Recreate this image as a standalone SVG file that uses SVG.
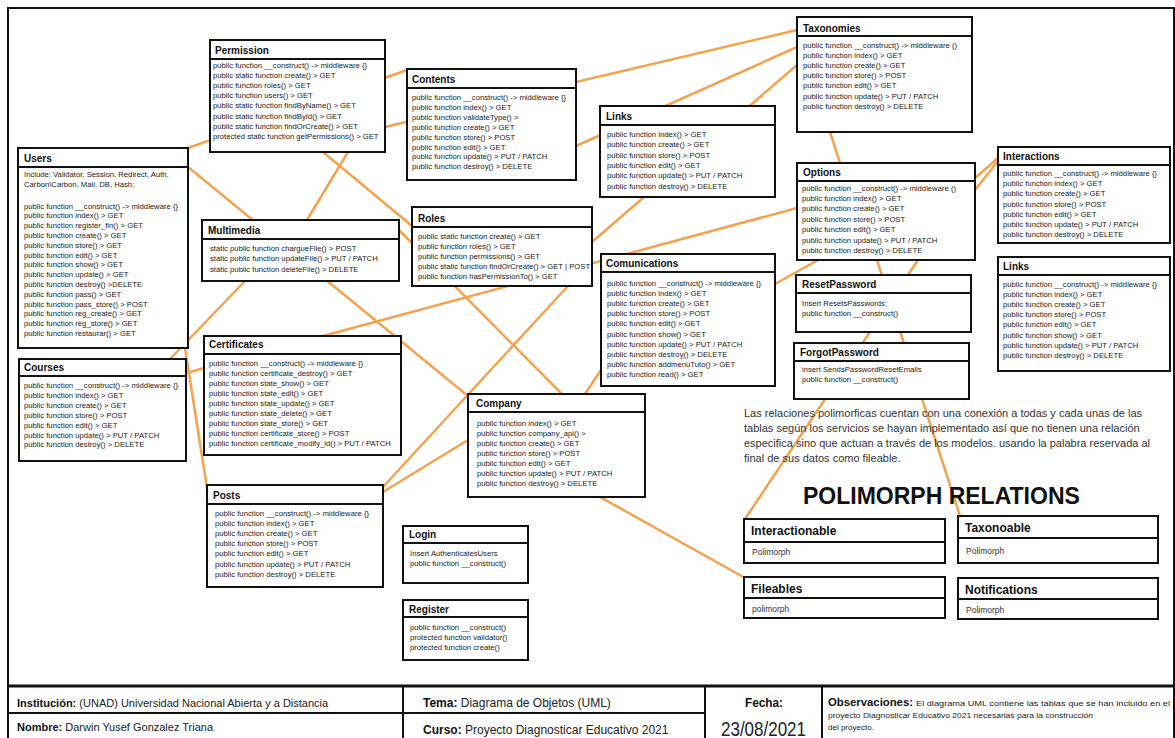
<svg xmlns="http://www.w3.org/2000/svg" width="1175" height="738" viewBox="0 0 1175 738">
<style>
.bx{fill:#fff;stroke:#111;stroke-width:2}
.hl{stroke:#111;stroke-width:2}
.t{font-family:"Liberation Sans",Arial,sans-serif;font-size:10px;font-weight:bold;fill:#111}
.m{font-family:"Liberation Sans",Arial,sans-serif;font-size:7.7px;fill:#222}
.pt{font-family:"Liberation Sans",Arial,sans-serif;font-size:12px;font-weight:bold;fill:#111}
.pm{font-family:"Liberation Sans",Arial,sans-serif;font-size:8.5px;fill:#333}
.c line{stroke:#F4A24E;stroke-width:2.5;fill:none}
.f{font-family:"Liberation Sans",Arial,sans-serif;fill:#222}
.f11{font-size:11px}
.f12{font-size:12px}
.f8{font-size:8px}
.f20{font-size:21px}
.fb{font-weight:bold;fill:#111}
.para{font-family:"Liberation Sans",Arial,sans-serif;font-size:11px;fill:#333}
.fr{stroke:#111;stroke-width:2;fill:none}
.fl{stroke:#111;stroke-width:2}
</style>
<rect width="1175" height="738" fill="#fff"/>
<path class="fr" d="M8 738V8H1174V738"/>

<g id="connectors" class="c">
<line x1="188" y1="148" x2="407" y2="70"/>
<line x1="188" y1="167" x2="468" y2="396"/>
<line x1="385" y1="127" x2="797" y2="30"/>
<line x1="576" y1="146" x2="797" y2="47"/>
<line x1="592" y1="242" x2="797" y2="65"/>
<line x1="186" y1="373" x2="797" y2="208"/>
<line x1="348" y1="152" x2="307" y2="220"/>
<line x1="323" y1="152" x2="412" y2="226"/>
<line x1="568" y1="286" x2="383" y2="487"/>
<line x1="399" y1="230" x2="562" y2="394"/>
<line x1="601" y1="370" x2="585" y2="394"/>
<line x1="775" y1="284" x2="818" y2="260"/>
<line x1="918" y1="260" x2="745" y2="519"/>
<line x1="877" y1="260" x2="960" y2="516"/>
<line x1="600" y1="497" x2="745" y2="578"/>
<line x1="975" y1="178" x2="998" y2="158"/>
<line x1="975" y1="190" x2="998" y2="161"/>
<line x1="830" y1="132" x2="840" y2="163"/>
<line x1="185" y1="348" x2="207" y2="488"/>
<line x1="245" y1="281" x2="170" y2="359"/>
<line x1="383" y1="492" x2="468" y2="440"/>
</g>

<g id="users">
<rect class="bx" x="18" y="148" width="170" height="200"/>
<line class="hl" x1="18" y1="167" x2="188" y2="167"/>
<text class="t" x="24" y="162">Users</text>
<text class="m"><tspan x="24" y="177">Include: Validator, Session, Redirect, Auth,</tspan><tspan x="24" y="187">Carbon\Carbon, Mail, DB, Hash;</tspan></text>
<text class="m"><tspan x="24" y="208.5">public function __construct() -&gt; middleware {}</tspan><tspan x="24" dy="9.8">public function index() &gt; GET</tspan><tspan x="24" dy="9.8">public function register_fin()  &gt; GET</tspan><tspan x="24" dy="9.8">public function create() &gt; GET</tspan><tspan x="24" dy="9.8">public function store() &gt; GET</tspan><tspan x="24" dy="9.8">public function edit() &gt; GET</tspan><tspan x="24" dy="9.8">public function show() &gt; GET</tspan><tspan x="24" dy="9.8">public function update() &gt; GET</tspan><tspan x="24" dy="9.8">public function destroy() &gt;DELETE</tspan><tspan x="24" dy="9.8">public function pass() &gt; GET</tspan><tspan x="24" dy="9.8">public function pass_store() &gt; POST</tspan><tspan x="24" dy="9.8">public function reg_create() &gt; GET</tspan><tspan x="24" dy="9.8">public function reg_store() &gt; GET</tspan><tspan x="24" dy="9.8">public function restaurar() &gt; GET</tspan></text>
</g>

<g id="permission">
<rect class="bx" x="210" y="40" width="175" height="112"/>
<line class="hl" x1="210" y1="59" x2="385" y2="59"/>
<text class="t" x="215" y="54">Permission</text>
<text class="m"><tspan x="213" y="68">public function __construct() -&gt; middleware {}</tspan><tspan x="213" dy="10.1">public static function create() &gt; GET</tspan><tspan x="213" dy="10.1">public function roles() &gt; GET</tspan><tspan x="213" dy="10.1">public function users() &gt; GET</tspan><tspan x="213" dy="10.1">public static function findByName() &gt; GET</tspan><tspan x="213" dy="10.1">public static function findById() &gt; GET</tspan><tspan x="213" dy="10.1">public static function findOrCreate() &gt; GET</tspan><tspan x="213" dy="10.1">protected static function getPermissions() &gt; GET</tspan></text>
</g>

<g id="contents">
<rect class="bx" x="407" y="69" width="169" height="111"/>
<line class="hl" x1="407" y1="88" x2="576" y2="88"/>
<text class="t" x="412" y="83">Contents</text>
<text class="m"><tspan x="412" y="100">public function __construct() -&gt; middleware {}</tspan><tspan x="412" dy="9.9">public function index() &gt; GET</tspan><tspan x="412" dy="9.9">public function validateType() &gt;</tspan><tspan x="412" dy="9.9">public function create() &gt; GET</tspan><tspan x="412" dy="9.9">public function store() &gt; POST</tspan><tspan x="412" dy="9.9">public function edit() &gt;  GET</tspan><tspan x="412" dy="9.9">public function update() &gt;  PUT / PATCH</tspan><tspan x="412" dy="9.9">public function destroy() &gt; DELETE</tspan></text>
</g>

<g id="multimedia">
<rect class="bx" x="202" y="220" width="197" height="61"/>
<line class="hl" x1="202" y1="239" x2="399" y2="239"/>
<text class="t" x="208" y="234">Multimedia</text>
<text class="m"><tspan x="210" y="251">static public function chargueFile() &gt; POST</tspan><tspan x="210" dy="10.3">static public function updateFile() &gt; PUT / PATCH</tspan><tspan x="210" dy="10.3">static public function deleteFile() &gt; DELETE</tspan></text>
</g>

<g id="roles">
<rect class="bx" x="412" y="207" width="180" height="79"/>
<line class="hl" x1="412" y1="227" x2="592" y2="227"/>
<text class="t" x="418" y="222">Roles</text>
<text class="m"><tspan x="418" y="239">public static function create() &gt; GET</tspan><tspan x="418" dy="10">public function roles() &gt; GET</tspan><tspan x="418" dy="10">public function permissions() &gt; GET</tspan><tspan x="418" dy="10">public static function findOrCreate() &gt; GET | POST</tspan><tspan x="418" dy="10">public function hasPermissionTo() &gt; GET</tspan></text>
</g>

<g id="courses">
<rect class="bx" x="19" y="359" width="167" height="102"/>
<line class="hl" x1="19" y1="376" x2="186" y2="376"/>
<text class="t" x="24" y="371">Courses</text>
<text class="m"><tspan x="24" y="388">public function __construct() -&gt; middleware {}</tspan><tspan x="24" dy="9.9">public function index() &gt; GET</tspan><tspan x="24" dy="9.9">public function create() &gt; GET</tspan><tspan x="24" dy="9.9">public function store() &gt; POST</tspan><tspan x="24" dy="9.9">public function edit() &gt;  GET</tspan><tspan x="24" dy="9.9">public function update() &gt;  PUT / PATCH</tspan><tspan x="24" dy="9.9">public function destroy() &gt; DELETE</tspan></text>
</g>

<g id="certificates">
<rect class="bx" x="204" y="336" width="197" height="119"/>
<line class="hl" x1="204" y1="354" x2="401" y2="354"/>
<text class="t" x="209" y="348">Certificates</text>
<text class="m"><tspan x="209" y="366">public function __construct() -&gt; middleware {}</tspan><tspan x="209" dy="10">public function certificate_destroy() &gt; GET</tspan><tspan x="209" dy="10">public function state_show() &gt; GET</tspan><tspan x="209" dy="10">public function state_edit() &gt; GET</tspan><tspan x="209" dy="10">public function state_update() &gt; GET</tspan><tspan x="209" dy="10">public function state_delete() &gt;  GET</tspan><tspan x="209" dy="10">public function state_store() &gt; GET</tspan><tspan x="209" dy="10">public function certificate_store() &gt;  POST</tspan><tspan x="209" dy="10">public function certificate_modify_id() &gt; PUT / PATCH</tspan></text>
</g>

<g id="posts">
<rect class="bx" x="207" y="485" width="176" height="102"/>
<line class="hl" x1="207" y1="504" x2="383" y2="504"/>
<text class="t" x="213" y="499">Posts</text>
<text class="m"><tspan x="215" y="516">public function __construct() -&gt; middleware {}</tspan><tspan x="215" dy="10.1">public function index() &gt; GET</tspan><tspan x="215" dy="10.1">public function create() &gt; GET</tspan><tspan x="215" dy="10.1">public function store() &gt; POST</tspan><tspan x="215" dy="10.1">public function edit() &gt;  GET</tspan><tspan x="215" dy="10.1">public function update() &gt;  PUT / PATCH</tspan><tspan x="215" dy="10.1">public function destroy() &gt; DELETE</tspan></text>
</g>

<g id="login">
<rect class="bx" x="403" y="526" width="125" height="57"/>
<line class="hl" x1="403" y1="543" x2="528" y2="543"/>
<text class="t" x="409" y="538">Login</text>
<text class="m"><tspan x="410" y="556">Insert AuthenticatesUsers</tspan><tspan x="410" dy="10">public function __construct()</tspan></text>
</g>

<g id="register">
<rect class="bx" x="403" y="600" width="125" height="60"/>
<line class="hl" x1="403" y1="617" x2="528" y2="617"/>
<text class="t" x="409" y="613">Register</text>
<text class="m"><tspan x="410" y="630">public function __construct()</tspan><tspan x="410" dy="10">protected function validator()</tspan><tspan x="410" dy="10">protected function create()</tspan></text>
</g>

<g id="links">
<rect class="bx" x="600" y="106" width="175" height="91"/>
<line class="hl" x1="600" y1="125" x2="775" y2="125"/>
<text class="t" x="606" y="120">Links</text>
<text class="m"><tspan x="607" y="137">public function index() &gt; GET</tspan><tspan x="607" dy="10.3">public function create() &gt; GET</tspan><tspan x="607" dy="10.3">public function store() &gt; POST</tspan><tspan x="607" dy="10.3">public function edit() &gt;  GET</tspan><tspan x="607" dy="10.3">public function update() &gt;  PUT / PATCH</tspan><tspan x="607" dy="10.3">public function destroy() &gt; DELETE</tspan></text>
</g>

<g id="comunications">
<rect class="bx" x="601" y="254" width="174" height="132"/>
<line class="hl" x1="601" y1="272" x2="775" y2="272"/>
<text class="t" x="606" y="267">Comunications</text>
<text class="m"><tspan x="607" y="286">public function __construct() -&gt; middleware {}</tspan><tspan x="607" dy="10.1">public function index() &gt; GET</tspan><tspan x="607" dy="10.1">public function create() &gt; GET</tspan><tspan x="607" dy="10.1">public function store() &gt;  POST</tspan><tspan x="607" dy="10.1">public function edit() &gt; GET</tspan><tspan x="607" dy="10.1">public function show() &gt; GET</tspan><tspan x="607" dy="10.1">public function update() &gt; PUT / PATCH</tspan><tspan x="607" dy="10.1">public function destroy() &gt; DELETE</tspan><tspan x="607" dy="10.1">public function addmenuTuto() &gt; GET</tspan><tspan x="607" dy="10.1">public function read() &gt; GET</tspan></text>
</g>

<g id="taxonomies">
<rect class="bx" x="797" y="17" width="175" height="115"/>
<line class="hl" x1="797" y1="36" x2="972" y2="36"/>
<text class="t" x="803" y="32">Taxonomies</text>
<text class="m"><tspan x="803" y="48">public function __construct() -&gt; middleware ()</tspan><tspan x="803" dy="10.1">public function index() &gt; GET</tspan><tspan x="803" dy="10.1">public function create() &gt; GET</tspan><tspan x="803" dy="10.1">public function store() &gt; POST</tspan><tspan x="803" dy="10.1">public function edit() &gt;  GET</tspan><tspan x="803" dy="10.1">public function update() &gt;  PUT / PATCH</tspan><tspan x="803" dy="10.1">public function destroy() &gt; DELETE</tspan></text>
</g>

<g id="options">
<rect class="bx" x="797" y="163" width="178" height="97"/>
<line class="hl" x1="797" y1="181" x2="975" y2="181"/>
<text class="t" x="803" y="176">Options</text>
<text class="m"><tspan x="802" y="190.5">public function __construct() -&gt; middleware ()</tspan><tspan x="802" dy="10.4">public function index() &gt; GET</tspan><tspan x="802" dy="10.4">public function create() &gt; GET</tspan><tspan x="802" dy="10.4">public function store() &gt; POST</tspan><tspan x="802" dy="10.4">public function edit() &gt;  GET</tspan><tspan x="802" dy="10.4">public function update() &gt;  PUT / PATCH</tspan><tspan x="802" dy="10.4">public function destroy() &gt; DELETE</tspan></text>
</g>

<g id="interactions">
<rect class="bx" x="998" y="147" width="172" height="96"/>
<line class="hl" x1="998" y1="165" x2="1170" y2="165"/>
<text class="t" x="1003" y="160">Interactions</text>
<text class="m"><tspan x="1003" y="176">public function __construct() -&gt; middleware {}</tspan><tspan x="1003" dy="10.2">public function index() &gt; GET</tspan><tspan x="1003" dy="10.2">public function create() &gt; GET</tspan><tspan x="1003" dy="10.2">public function store() &gt; POST</tspan><tspan x="1003" dy="10.2">public function edit() &gt;  GET</tspan><tspan x="1003" dy="10.2">public function update() &gt;  PUT / PATCH</tspan><tspan x="1003" dy="10.2">public function destroy() &gt; DELETE</tspan></text>
</g>

<g id="links-right">
<rect class="bx" x="998" y="257" width="172" height="114"/>
<line class="hl" x1="998" y1="275" x2="1170" y2="275"/>
<text class="t" x="1003" y="270">Links</text>
<text class="m"><tspan x="1003" y="287">public function __construct() -&gt; middleware {}</tspan><tspan x="1003" dy="10.1">public function index() &gt; GET</tspan><tspan x="1003" dy="10.1">public function create() &gt; GET</tspan><tspan x="1003" dy="10.1">public function store() &gt;  POST</tspan><tspan x="1003" dy="10.1">public function edit() &gt; GET</tspan><tspan x="1003" dy="10.1">public function show() &gt; GET</tspan><tspan x="1003" dy="10.1">public function update() &gt; PUT / PATCH</tspan><tspan x="1003" dy="10.1">public function destroy() &gt; DELETE</tspan></text>
</g>

<g id="resetpassword">
<rect class="bx" x="796" y="275" width="175" height="57"/>
<line class="hl" x1="796" y1="293" x2="971" y2="293"/>
<text class="t" x="802" y="288">ResetPassword</text>
<text class="m"><tspan x="802" y="306">Insert ResetsPasswords;</tspan><tspan x="802" dy="9.5">public function __construct()</tspan></text>
</g>

<g id="forgotpassword">
<rect class="bx" x="794" y="343" width="175" height="56"/>
<line class="hl" x1="794" y1="361" x2="969" y2="361"/>
<text class="t" x="800" y="356">ForgotPassword</text>
<text class="m"><tspan x="802" y="372">insert SendsPasswordResetEmails</tspan><tspan x="802" dy="9.5">public function __construct()</tspan></text>
</g>

<g id="company">
<rect class="bx" x="468" y="394" width="177" height="103"/>
<line class="hl" x1="468" y1="412" x2="645" y2="412"/>
<text class="t" x="476" y="407">Company</text>
<text class="m"><tspan x="477" y="426">public function index() &gt; GET</tspan><tspan x="477" dy="10">public function company_api() &gt;</tspan><tspan x="477" dy="10">public function create() &gt; GET</tspan><tspan x="477" dy="10">public function store() &gt; POST</tspan><tspan x="477" dy="10">public function edit() &gt;  GET</tspan><tspan x="477" dy="10">public function update() &gt;  PUT / PATCH</tspan><tspan x="477" dy="10">public function destroy() &gt; DELETE</tspan></text>
</g>

<g id="note">
<text class="para"><tspan x="744" y="417">Las relaciones polimorficas cuentan con una conexión a todas y cada unas de las</tspan><tspan x="744" y="432">tablas según los servicios se hayan implementado así que no tienen una relación</tspan><tspan x="744" y="447">especifica sino que actuan a través de los modelos. usando la palabra reservada al</tspan><tspan x="744" y="462">final de sus datos como fileable.</tspan></text>
<text x="803" y="504" font-family="Liberation Sans,Arial,sans-serif" font-size="23" font-weight="bold" fill="#111">POLIMORPH RELATIONS</text>
</g>

<g id="interactionable">
<rect class="bx" x="744" y="519" width="201" height="44"/>
<line class="hl" x1="744" y1="542" x2="945" y2="542"/>
<text class="pt" x="751" y="535">Interactionable</text>
<text class="pm" x="752" y="555">Polimorph</text>
</g>
<g id="fileables">
<rect class="bx" x="744" y="577" width="201" height="41"/>
<line class="hl" x1="744" y1="598" x2="945" y2="598"/>
<text class="pt" x="751" y="593">Fileables</text>
<text class="pm" x="752" y="612">polimorph</text>
</g>
<g id="taxonoable">
<rect class="bx" x="958" y="516" width="200" height="47"/>
<line class="hl" x1="958" y1="538" x2="1158" y2="538"/>
<text class="pt" x="965" y="532">Taxonoable</text>
<text class="pm" x="966" y="554">Polimorph</text>
</g>
<g id="notifications">
<rect class="bx" x="958" y="578" width="200" height="41"/>
<line class="hl" x1="958" y1="599" x2="1158" y2="599"/>
<text class="pt" x="965" y="594">Notifications</text>
<text class="pm" x="966" y="613">Polimorph</text>
</g>

<g id="footer">
<line class="fl" x1="8" y1="686" x2="1174" y2="686" style="stroke-width:3"/>
<line class="fl" x1="8" y1="713" x2="705" y2="713"/>
<line class="fl" x1="403" y1="686" x2="403" y2="738"/>
<line class="fl" x1="705" y1="686" x2="705" y2="738"/>
<line class="fl" x1="822" y1="686" x2="822" y2="738"/>
<text class="f f11" x="17" y="707"><tspan class="fb">Institución:</tspan> (UNAD) Universidad Nacional Abierta y a Distancia</text>
<text class="f f11" x="17" y="731"><tspan class="fb">Nombre:</tspan> Darwin Yusef Gonzalez Triana</text>
<text class="f f12" x="423" y="707"><tspan class="fb">Tema:</tspan> Diagrama de Objetos (UML)</text>
<text class="f f12" x="423" y="734"><tspan class="fb">Curso:</tspan> Proyecto Diagnosticar Educativo 2021</text>
<text class="f f12 fb" x="745" y="707" textLength="38" lengthAdjust="spacingAndGlyphs">Fecha:</text>
<text class="f f20" x="721" y="736" textLength="85" lengthAdjust="spacingAndGlyphs">23/08/2021</text>
<text class="f f11 fb" x="828" y="706" textLength="85" lengthAdjust="spacingAndGlyphs">Observaciones:</text>
<text class="f f8" x="916" y="706" textLength="254" lengthAdjust="spacingAndGlyphs">El diagrama UML contiene las tablas que se han incluido en el</text>
<text class="f f8" x="828" y="718" textLength="265" lengthAdjust="spacingAndGlyphs">proyecto Diagnosticar Educativo 2021 necesarias para la construcción</text>
<text class="f f8" x="828" y="730">del proyecto.</text>
</g>
</svg>
